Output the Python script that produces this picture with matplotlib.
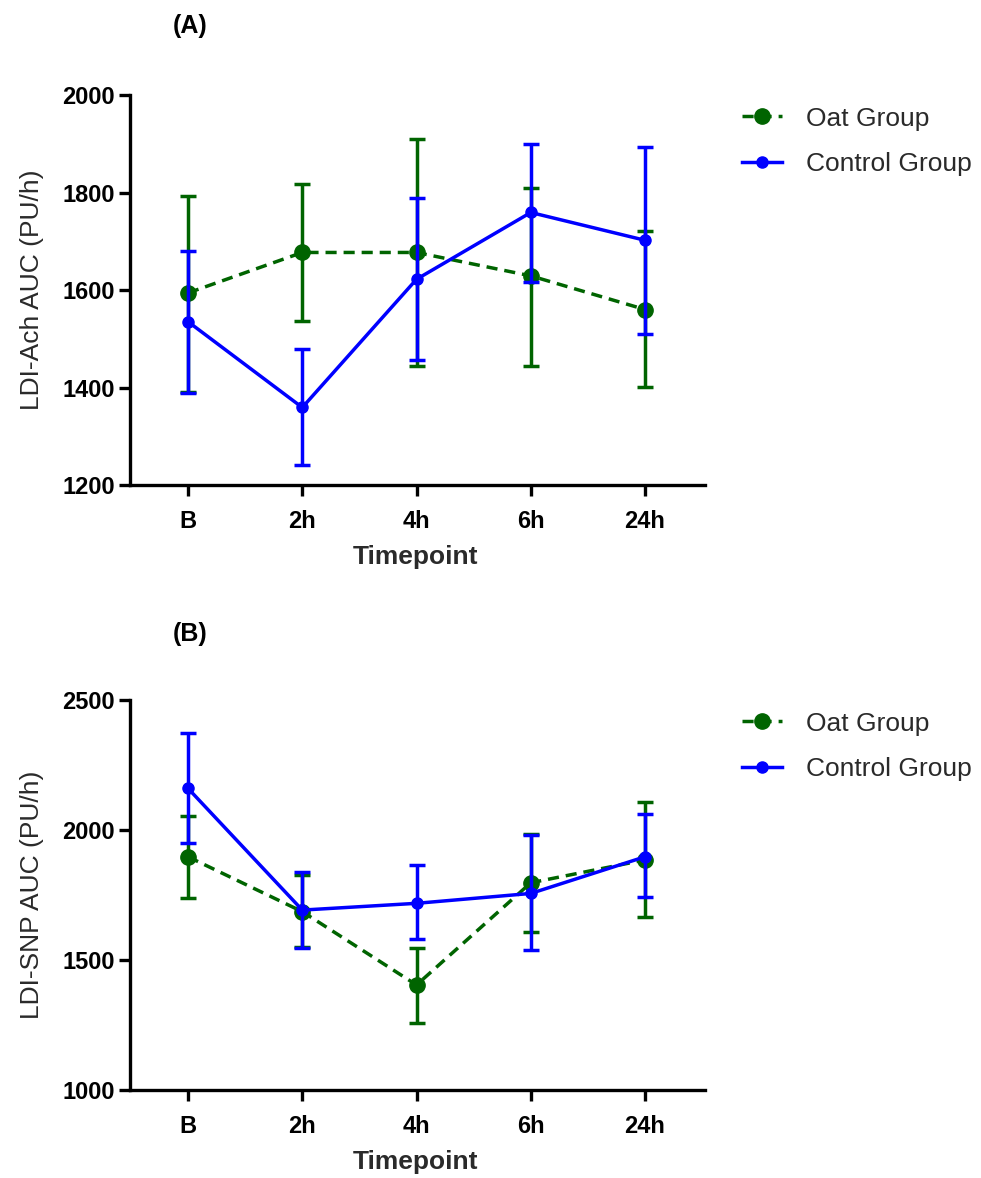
import matplotlib
matplotlib.use("Agg")
import matplotlib.pyplot as plt
from matplotlib.lines import Line2D
import numpy as np

timepoints = ["B", "2h", "4h", "6h", "24h"]
series_names = ["Oat Group", "Control Group"]

# Panel A: LDI-Ach AUC (PU/h)
a_oat_mean = [1594, 1677, 1677, 1629, 1560]
a_oat_upper = [1793, 1818, 1910, 1809, 1721]
a_oat_lower = [1391, 1536, 1444, 1444, 1401]
a_ctrl_mean = [1535, 1359, 1622, 1759, 1702]
a_ctrl_upper = [1679, 1478, 1788, 1899, 1894]
a_ctrl_lower = [1389, 1241, 1456, 1617, 1510]

# Panel B: LDI-SNP AUC (PU/h)
b_oat_mean = [1897, 1686, 1404, 1797, 1885]
b_oat_upper = [2054, 1827, 1547, 1985, 2109]
b_oat_lower = [1737, 1551, 1256, 1609, 1664]
b_ctrl_mean = [2160, 1692, 1718, 1756, 1897]
b_ctrl_upper = [2372, 1840, 1865, 1981, 2062]
b_ctrl_lower = [1949, 1545, 1580, 1538, 1744]

plt.rcParams['font.family'] = ['Liberation Sans', 'DejaVu Sans']

W, H = 981, 1178
fig = plt.figure(figsize=(W / 100, H / 100), dpi=100)

GREEN = "#006400"
BLUE = "#0000FF"
TXT = "#2a2a2a"
LW = 2.5
OAT_LS = (0, (3.2, 2.0))


def panel(top_px, oat_m, oat_u, oat_l, ctl_m, ctl_u, ctl_l, ylim, yticks,
          ylabel, title, title_y):
    left_px, right_px, height_px = 130, 705, 390
    rect = [left_px / W, 1 - (top_px + height_px) / H,
            (right_px - left_px) / W, height_px / H]
    ax = fig.add_axes(rect)
    x = np.arange(len(timepoints))
    om = np.array(oat_m); cm = np.array(ctl_m)
    oerr = [om - np.array(oat_l), np.array(oat_u) - om]
    cerr = [cm - np.array(ctl_l), np.array(ctl_u) - cm]
    ax.errorbar(x, om, yerr=oerr, color=GREEN, ls=OAT_LS, lw=LW,
                marker='o', ms=11, capsize=5.5, capthick=LW, elinewidth=LW,
                zorder=2)
    ax.errorbar(x, cm, yerr=cerr, color=BLUE, ls='-', lw=LW,
                marker='o', ms=8, capsize=5.5, capthick=LW, elinewidth=LW,
                zorder=3)
    ax.set_xlim(-0.508, 4.525)
    ax.set_ylim(*ylim)
    ax.set_yticks(yticks)
    ax.set_xticks(x)
    ax.set_xticklabels(timepoints)
    for s in ("top", "right"):
        ax.spines[s].set_visible(False)
    for s in ("left", "bottom"):
        ax.spines[s].set_linewidth(2.4)
    ax.tick_params(axis='both', width=2.4, length=8, labelsize=17)
    ax.tick_params(axis='y', pad=3)
    ax.tick_params(axis='x', pad=10)
    for lab in ax.get_xticklabels() + ax.get_yticklabels():
        lab.set_fontweight('bold')
    ax.set_xlabel("Timepoint", fontsize=19, fontweight='bold', color=TXT)
    ax.xaxis.set_label_coords(0.497, -0.155)
    ax.set_ylabel(ylabel, fontsize=19, color=TXT)
    ax.yaxis.set_label_coords(-0.150, 0.5)
    fig.text(190 / W, 1 - title_y / H, title, fontsize=18, fontweight='bold',
             ha='center', va='center')
    handles = [
        Line2D([], [], color=GREEN, ls=OAT_LS, lw=LW, marker='o', ms=11),
        Line2D([], [], color=BLUE, ls='-', lw=LW, marker='o', ms=8),
    ]
    ax.legend(handles=handles, labels=series_names, loc='upper left',
              bbox_to_anchor=(731 / W, 1 - (top_px + 1) / H),
              bbox_transform=fig.transFigure, frameon=False, fontsize=19,
              handlelength=1.55, handletextpad=0.9, labelspacing=0.82,
              labelcolor=TXT, borderaxespad=0)
    return ax


panel(95, a_oat_mean, a_oat_upper, a_oat_lower,
      a_ctrl_mean, a_ctrl_upper, a_ctrl_lower,
      (1200, 2000), [1200, 1400, 1600, 1800, 2000],
      "LDI-Ach AUC (PU/h)", "(A)", 26)
panel(700, b_oat_mean, b_oat_upper, b_oat_lower,
      b_ctrl_mean, b_ctrl_upper, b_ctrl_lower,
      (1000, 2500), [1000, 1500, 2000, 2500],
      "LDI-SNP AUC (PU/h)", "(B)", 634)

fig.savefig("out.png", dpi=100)
